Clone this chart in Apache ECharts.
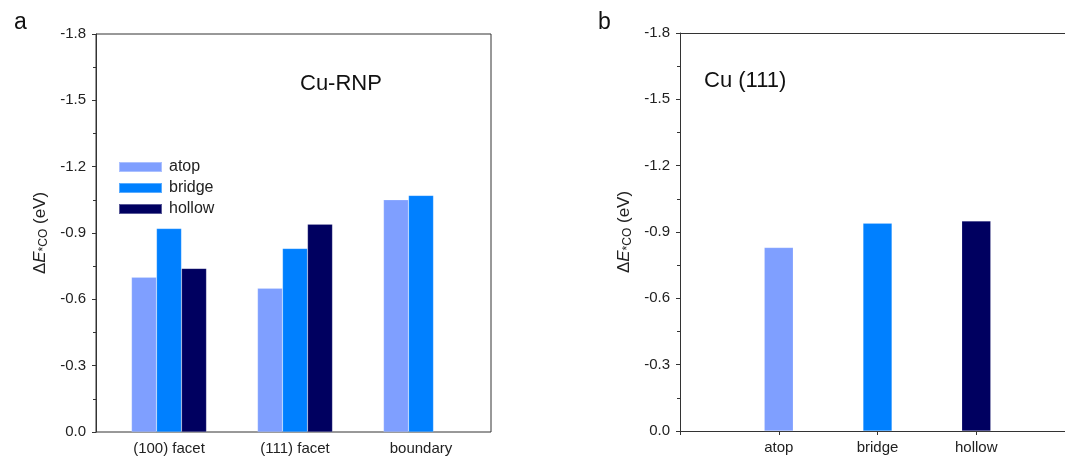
<!DOCTYPE html>
<html>
<head>
<meta charset="utf-8">
<script src="https://cdn.jsdelivr.net/npm/echarts@6/dist/echarts.min.js"></script>
<style>
html,body{margin:0;padding:0;background:#fff;}
#chart{width:1065px;height:459px;}
</style>
</head>
<body>
<div id="chart"></div>
<script>
// ---- data ----
const leftCategories = ['(100) facet', '(111) facet', 'boundary'];
const seriesNames = ['atop', 'bridge', 'hollow'];
const atopValues = [-0.70, -0.65, -1.05];
const bridgeValues = [-0.92, -0.83, -1.07];
const hollowValues = [-0.74, -0.94, null];
const rightCategories = ['atop', 'bridge', 'hollow'];
const rightValues = [-0.83, -0.94, -0.95];
const yTicks = [-1.8, -1.5, -1.2, -0.9, -0.6, -0.3, 0.0];

const colors = ['#7f9fff', '#0080ff', '#000060'];
const FONT = 'Liberation Sans, Arial, sans-serif';
const TXT = '#222';

const chart = echarts.init(document.getElementById('chart'), null, {renderer: 'canvas'});

const yName = {
  name: '{d|Δ}{e|E}{s|*CO}{d| (eV)}',
  nameLocation: 'middle',
  nameRotate: 90,
  nameGap: 46,
  nameTextStyle: {
    rich: {
      d: {fontSize: 17, fontFamily: FONT, color: TXT},
      e: {fontSize: 17, fontFamily: FONT, fontStyle: 'italic', color: TXT},
      s: {fontSize: 12, fontFamily: FONT, color: TXT, verticalAlign: 'bottom', padding: [7, 0, 0, 0]}
    }
  }
};

function valueY(gridIndex, visible) {
  const ax = {
    type: 'value', gridIndex: gridIndex, inverse: true,
    min: yTicks[0], max: yTicks[yTicks.length - 1], interval: 0.3,
    splitLine: {show: false}
  };
  if (!visible) {
    Object.assign(ax, {show: false});
    return ax;
  }
  return Object.assign(ax, {
    axisLine: {show: true, lineStyle: {color: '#333', width: 1}},
    axisTick: {show: true, length: 4, lineStyle: {color: '#333'}},
    minorTick: {show: true, splitNumber: 2, length: 3, lineStyle: {color: '#333'}},
    axisLabel: {
      fontSize: 15, fontFamily: FONT, color: TXT, margin: 10,
      formatter: v => v.toFixed(1)
    }
  }, yName);
}

const barBorder = {borderColor: 'rgba(255,255,255,0.35)', borderWidth: 0.5};

const option = {
  animation: false,
  backgroundColor: '#fff',
  title: [
    {text: 'a', left: 9, top: 6, textStyle: {fontSize: 23, fontWeight: 'normal', fontFamily: FONT, color: '#111'}},
    {text: 'b', left: 593, top: 6, textStyle: {fontSize: 23, fontWeight: 'normal', fontFamily: FONT, color: '#111'}},
    {text: 'Cu-RNP', left: 295, top: 68, textStyle: {fontSize: 22, fontWeight: 'normal', fontFamily: FONT, color: '#111'}},
    {text: 'Cu (111)', left: 699, top: 65, textStyle: {fontSize: 22, fontWeight: 'normal', fontFamily: FONT, color: '#111'}}
  ],
  legend: {
    orient: 'vertical', left: 113, top: 154,
    itemWidth: 43, itemHeight: 10, itemGap: 5,
    icon: 'rect',
    data: seriesNames,
    textStyle: {fontSize: 16, fontFamily: FONT, color: TXT, padding: [0, 0, 0, 2]}
  },
  grid: [
    {left: 96, right: 574, top: 34, bottom: 27, show: true, borderColor: '#333', borderWidth: 1, backgroundColor: 'transparent', outerBoundsMode: 'none'},
    {left: 106, width: 378, top: 34, bottom: 27, outerBoundsMode: 'none'},
    {left: 680, width: 395, top: 33, bottom: 28, outerBoundsMode: 'none'}
  ],
  xAxis: [
    {type: 'value', gridIndex: 0, show: false, min: 0, max: 1},
    {type: 'category', gridIndex: 1, data: leftCategories,
     axisLine: {show: false}, axisTick: {show: false},
     axisLabel: {fontSize: 15, fontFamily: FONT, color: TXT, margin: 9}},
    {type: 'category', gridIndex: 2, data: [''].concat(rightCategories, ['']),
     boundaryGap: false,
     axisLine: {show: true, lineStyle: {color: '#333'}},
     axisTick: {show: true, length: 4, lineStyle: {color: '#333'}},
     axisLabel: {fontSize: 15, fontFamily: FONT, color: TXT, margin: 9}},
    {type: 'category', gridIndex: 2, position: 'top', data: [''].concat(rightCategories, ['']),
     boundaryGap: false,
     axisLine: {show: true, lineStyle: {color: '#333'}},
     axisTick: {show: false}, axisLabel: {show: false}}
  ],
  yAxis: [
    valueY(0, true),
    valueY(1, false),
    valueY(2, true)
  ],
  series: [
    {name: 'atop', type: 'bar', xAxisIndex: 1, yAxisIndex: 1, data: atopValues,
     barWidth: 25, barGap: '0%', itemStyle: Object.assign({color: colors[0]}, barBorder)},
    {name: 'bridge', type: 'bar', xAxisIndex: 1, yAxisIndex: 1, data: bridgeValues,
     barWidth: 25, barGap: '0%', itemStyle: Object.assign({color: colors[1]}, barBorder)},
    {name: 'hollow', type: 'bar', xAxisIndex: 1, yAxisIndex: 1, data: hollowValues,
     barWidth: 25, barGap: '0%', itemStyle: Object.assign({color: colors[2]}, barBorder)},
    {name: 'Cu(111)', type: 'bar', xAxisIndex: 2, yAxisIndex: 2, barWidth: 29,
     data: [null].concat(rightValues.map((v, i) => ({value: v, itemStyle: Object.assign({color: colors[i]}, barBorder)})), [null])}
  ]
};
chart.setOption(option);
</script>
</body>
</html>
